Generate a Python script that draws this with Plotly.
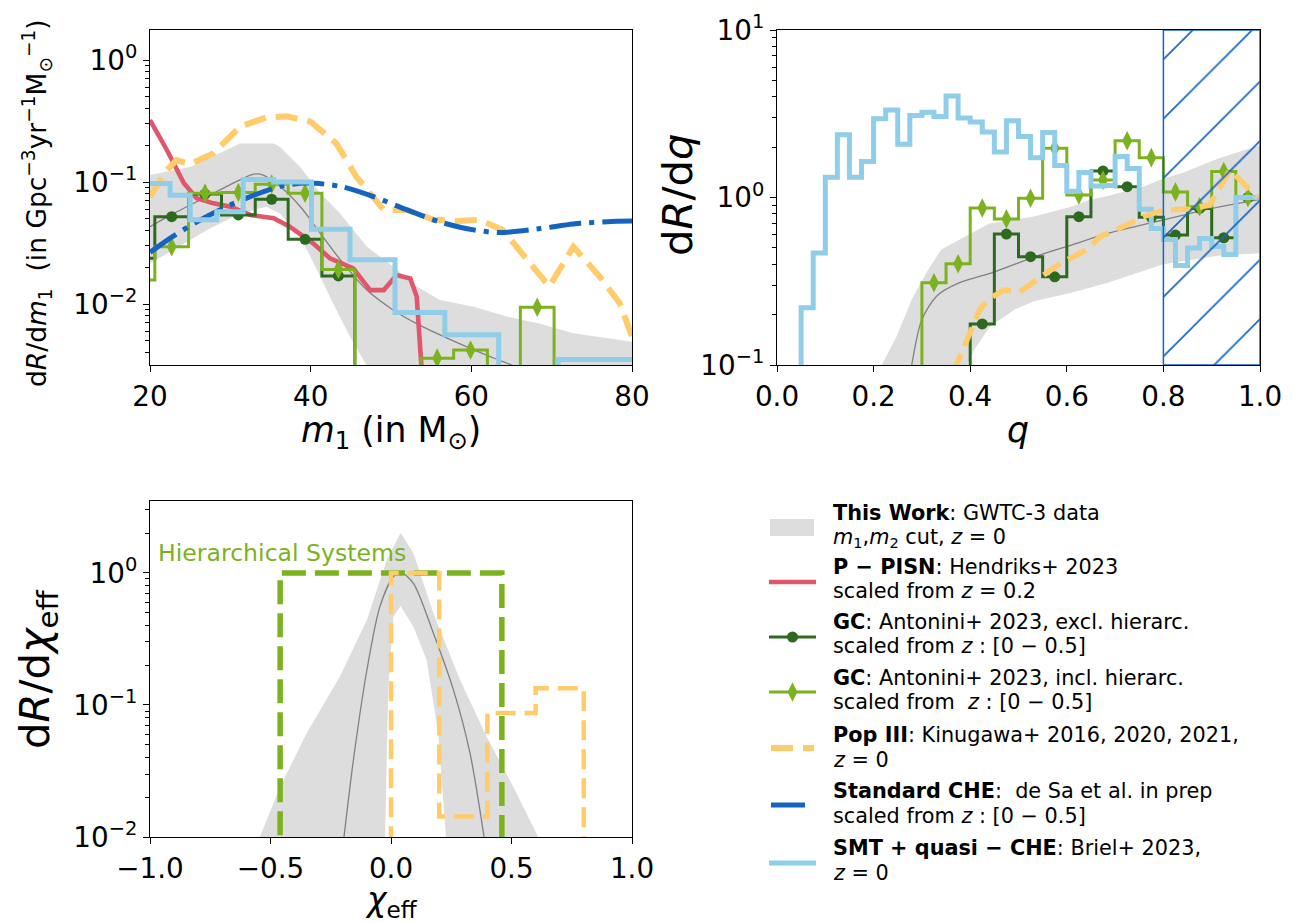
import numpy as np
import plotly.graph_objects as go

W, H = 1300, 923
FONT = "DejaVu Sans"

# colours
GREY_FILL = "#dddddd"
GREY_LINE = "#808080"
RED = "#e0566b"
DKGREEN = "#2d6a1f"
LTGREEN = "#7cb21f"
ORANGE = "#ffcb6b"
BLUE = "#1565c0"
LTBLUE = "#8fcde9"

# ================= primary mass m1 =================
m1_band_hi_x = [20, 25, 31.2, 35.4, 36.2, 38.7, 41.2, 43.7, 47.0, 50.3, 53.2, 56.1, 60.3, 64.4, 68.6, 72.7, 80]
m1_band_hi = [0.114, 0.133, 0.207, 0.207, 0.194, 0.133, 0.081, 0.055, 0.0295, 0.0202, 0.0139, 0.0108,
              0.0095, 0.0079, 0.0069, 0.00575, 0.0049]
m1_band_lo_x = [20, 22.9, 27.1, 31.2, 34.5, 36.2, 38.7, 40.8, 42.8, 44.9, 47.0, 48.0, 80]
m1_band_lo = [0.0216, 0.0277, 0.0405, 0.055, 0.0628, 0.055, 0.0356, 0.019, 0.0101, 0.0054, 0.0031, 0, 0]

m1_med_x = [20, 22.9, 27.1, 31.2, 32.9, 34.1, 36.2, 38.7, 41.2, 43.7, 47.0, 50.3, 53.2, 57.4, 61.5, 64.8, 70]
m1_med = [0.043, 0.055, 0.076, 0.104, 0.116, 0.114, 0.092, 0.063, 0.038, 0.023, 0.013, 0.0089, 0.0069,
          0.0051, 0.0039, 0.0032, 0.0022]

pisn_m = [20, 22.1, 24.2, 25.8, 27.9, 30.0, 32.5, 35.4, 37.4, 40.3, 42.4, 45.3, 47.4, 49.1, 50.7, 52.4,
          53.2, 53.8, 54.0]
pisn_rate = [0.322, 0.183, 0.098, 0.0735, 0.0668, 0.0628, 0.0537, 0.0504, 0.043, 0.0314, 0.0237, 0.0196,
             0.013, 0.013, 0.0173, 0.0162, 0.0115, 0.003, 0]

gc_m_edges = [16.5, 20.6, 24.8, 28.9, 33.1, 37.2, 41.4, 45.5, 49.6, 53.7, 57.8, 62.0, 66.1, 70.3, 74.4]
gc_excl_m = [0.0237, 0.052, 0.0797, 0.0537, 0.0722, 0.0339, 0.017, 0, 0, 0, 0, 0, 0, 0]
gc_incl_m = [0.0157, 0.0295, 0.081, 0.082, 0.096, 0.081, 0.0192, 0, 0, 0.0036, 0.0042, 0, 0.0094, 0]

pop3_m = [20, 22.1, 23.3, 25.0, 27.9, 31.2, 34.5, 37.0, 40.0, 43.2, 45.7, 49.1, 52.0, 55.3, 58.1, 61.0,
          63.9, 66.4, 69.7, 72.7, 76.0, 78.5, 80]
pop3_m_rate = [0.076, 0.125, 0.151, 0.14, 0.172, 0.284, 0.339, 0.345, 0.312, 0.207, 0.11, 0.059, 0.059,
               0.049, 0.048, 0.049, 0.0405, 0.026, 0.0139, 0.0295, 0.0167, 0.0101, 0.0054]

che_m = [20, 22.9, 25.8, 29.1, 32.5, 36.2, 39.5, 43.7, 47.8, 52.0, 56.1, 60.3, 63.6, 68.6, 72.7, 76.9, 80]
che_m_rate = [0.0265, 0.036, 0.047, 0.061, 0.076, 0.092, 0.098, 0.092, 0.076, 0.059, 0.047, 0.0405,
              0.0385, 0.0415, 0.0453, 0.0473, 0.0478]

smt_m_edges = [20, 22.5, 25.0, 28.3, 31.6, 35.4, 40.1, 44.9, 50.5, 56.7, 63.4, 70.8, 80]
smt_m_rate = [0.097, 0.078, 0.049, 0.057, 0.105, 0.100, 0.041, 0.023, 0.0085, 0.0056, 0, 0.0035]

# ================= mass ratio q =================
q_band_hi_x = [0.217, 0.248, 0.279, 0.309, 0.34, 0.378, 0.44, 0.532, 0.609, 0.648, 0.685, 0.762, 0.8,
               0.839, 0.916, 1.0]
q_band_hi = [0.1, 0.149, 0.246, 0.355, 0.489, 0.561, 0.70, 0.77, 0.88, 0.97, 1.02, 1.17, 1.3, 1.4, 1.72, 2.05]
q_band_lo_x = [0.217, 0.39, 0.409, 0.441, 0.493, 0.532, 0.609, 0.685, 0.8, 0.916, 1.0]
q_band_lo = [0.095, 0.095, 0.124, 0.17, 0.215, 0.24, 0.27, 0.31, 0.40, 0.45, 0.465]

q_med_x = [0.279, 0.30, 0.332, 0.378, 0.441, 0.545, 0.609, 0.685, 0.8, 0.9, 1.0]
q_med = [0.1, 0.187, 0.26, 0.31, 0.352, 0.454, 0.52, 0.61, 0.734, 0.86, 0.975]

gc_q_edges = [0.25, 0.3, 0.35, 0.4, 0.45, 0.5, 0.55, 0.6, 0.65, 0.7, 0.75, 0.8, 0.85, 0.9, 0.95, 1.0]
gc_excl_q = [0, 0, 0, 0.176, 0.605, 0.443, 0.336, 0.768, 1.44, 1.16, 0.762, 0.597, 0.86, 0.575, 1.0]
gc_incl_q = [0, 0.31, 0.402, 0.866, 0.745, 0.99, 1.97, 1.035, 1.27, 2.18, 1.73, 1.08, 0.88, 1.43, 1.0]

pop3_q = [0.365, 0.394, 0.42, 0.44, 0.47, 0.503, 0.531, 0.586, 0.641, 0.669, 0.717, 0.758, 0.8, 0.855,
          0.896, 0.917, 0.938, 0.965, 0.995]
pop3_q_rate = [0.09, 0.142, 0.215, 0.25, 0.28, 0.274, 0.314, 0.404, 0.487, 0.584, 0.67, 0.768, 0.841,
               0.855, 0.902, 1.135, 1.46, 1.22, 1.0]

smt_q_edges = [0.025, 0.05, 0.075, 0.1, 0.125, 0.15, 0.175, 0.2, 0.225, 0.25, 0.275, 0.3, 0.325, 0.35,
               0.375, 0.4, 0.425, 0.45, 0.475, 0.5, 0.525, 0.55, 0.575, 0.6, 0.625, 0.65, 0.675, 0.7,
               0.725, 0.75, 0.775, 0.8, 0.825, 0.85, 0.875, 0.9, 0.925, 0.95, 0.975, 1.0]
smt_q_rate = [0, 0.22, 0.467, 1.32, 2.37, 1.32, 1.64, 2.95, 3.33, 2.08, 3.09, 3.23, 3.05, 4.04, 2.98,
              2.82, 2.46, 1.87, 2.87, 2.31, 1.73, 2.44, 1.55, 1.09, 1.41, 1.17, 1.18, 1.76, 1.49, 0.85,
              0.652, 0.561, 0.393, 0.5, 0.57, 0.51, 0.457, 1.0, 1.0]

# region q > 0.8 marked with hatching
q_hatch = [0.8, 1.0]

# ================= effective spin chi_eff =================
chi_band_hi_x = [-0.544, -0.46, -0.35, -0.212, -0.1, -0.018, 0.04, 0.093, 0.176, 0.286, 0.397, 0.507, 0.611]
chi_band_hi = [0.01, 0.024, 0.061, 0.164, 0.44, 1.25, 2.02, 1.41, 0.495, 0.155, 0.0575, 0.024, 0.01]
chi_band_lo_x = [-0.544, -0.025, -0.011, 0.01, 0.04, 0.093, 0.148, 0.196, 0.228, 0.611]
chi_band_lo = [0, 0.01, 0.138, 0.467, 0.562, 0.392, 0.219, 0.061, 0.01, 0]

chi_med_x = [-0.198, -0.156, -0.1, -0.046, 0.01, 0.044, 0.093, 0.176, 0.259, 0.328, 0.39]
chi_med = [0.009, 0.0383, 0.184, 0.556, 0.937, 1.0, 0.835, 0.349, 0.13, 0.043, 0.009]

chi_hier_edges = [-1.0, -0.46, 0.46, 1.0]
chi_hier = [0, 1.0, 0]

chi_pop3_edges = [-0.2, 0.0, 0.2, 0.4, 0.6, 0.8, 1.0]
chi_pop3 = [0, 1.0, 0.0143, 0.087, 0.134, 0]

FLOOR = 1e-5  # empty bins are pushed below the visible range of the log axes


def pos(vals):
    return [max(v, FLOOR) for v in vals]


def step_xy(edges, vals):
    v = pos(vals)
    return list(edges), v + [v[-1]]


def centers(edges):
    return [(a + b) / 2 for a, b in zip(edges[:-1], edges[1:])]


def band(xh, yh, xl, yl):
    return list(xh) + list(xl)[::-1], pos(yh) + pos(yl)[::-1]


fig = go.Figure()


def add_band(xa, ya, xh, yh, xl, yl):
    bx, by = band(xh, yh, xl, yl)
    fig.add_trace(go.Scatter(x=bx, y=by, xaxis=xa, yaxis=ya, fill="toself", fillcolor=GREY_FILL,
                             mode="lines", line=dict(width=0, color=GREY_FILL), hoverinfo="skip",
                             showlegend=False))


def add_line(xa, ya, x, y, color, width, dash="solid", shape="linear", smoothing=None):
    line = dict(color=color, width=width, dash=dash, shape=shape)
    if smoothing is not None:
        line["smoothing"] = smoothing
    fig.add_trace(go.Scatter(x=x, y=pos(y), xaxis=xa, yaxis=ya, mode="lines", line=line,
                             showlegend=False))


def add_steps(xa, ya, edges, vals, color, width, dash="solid", symbol=None, msize=10):
    sx, sy = step_xy(edges, vals)
    fig.add_trace(go.Scatter(x=sx, y=sy, xaxis=xa, yaxis=ya, mode="lines",
                             line=dict(color=color, width=width, dash=dash, shape="hv"), showlegend=False))
    if symbol:
        fig.add_trace(go.Scatter(x=centers(edges), y=pos(vals), xaxis=xa, yaxis=ya, mode="markers",
                                 marker=dict(symbol=symbol, size=msize, color=color, line=dict(width=0)),
                                 showlegend=False))


# ---- panel: m1 ----
add_band("x", "y", m1_band_hi_x, m1_band_hi, m1_band_lo_x, m1_band_lo)
add_line("x", "y", m1_med_x, m1_med, GREY_LINE, 1.3, shape="spline", smoothing=0.8)
add_line("x", "y", pisn_m, pisn_rate, RED, 4.6)
add_steps("x", "y", gc_m_edges, gc_excl_m, DKGREEN, 3, symbol="circle", msize=11)
add_steps("x", "y", gc_m_edges, gc_incl_m, LTGREEN, 3, symbol="diamond-tall", msize=14)
add_line("x", "y", pop3_m, pop3_m_rate, ORANGE, 6, dash="22px,10px")
add_line("x", "y", che_m, che_m_rate, BLUE, 5, dash="32px,8px,5px,8px", shape="spline", smoothing=0.8)
add_steps("x", "y", smt_m_edges, smt_m_rate, LTBLUE, 5)

# ---- panel: q ----
add_band("x2", "y2", q_band_hi_x, q_band_hi, q_band_lo_x, q_band_lo)
add_line("x2", "y2", q_med_x, q_med, GREY_LINE, 1.3, shape="spline", smoothing=0.8)
add_steps("x2", "y2", gc_q_edges, gc_excl_q, DKGREEN, 3, symbol="circle", msize=11)
add_steps("x2", "y2", gc_q_edges, gc_incl_q, LTGREEN, 3, symbol="diamond-tall", msize=14)
add_steps("x2", "y2", smt_q_edges, smt_q_rate, LTBLUE, 5)
add_line("x2", "y2", pop3_q, pop3_q_rate, ORANGE, 5.5, dash="20px,9px")
fig.add_trace(go.Scatter(
    x=[q_hatch[0], q_hatch[1], q_hatch[1], q_hatch[0], q_hatch[0]],
    y=[0.1, 0.1, 10, 10, 0.1], xaxis="x2", yaxis="y2", mode="lines", fill="toself",
    fillcolor="rgba(0,0,0,0)",
    fillpattern=dict(shape="/", fgcolor=BLUE, bgcolor="rgba(0,0,0,0)", size=42, solidity=0.04),
    line=dict(color=BLUE, width=1.5), hoverinfo="skip", showlegend=False))

# ---- panel: chi_eff ----
add_band("x3", "y3", chi_band_hi_x, chi_band_hi, chi_band_lo_x, chi_band_lo)
add_line("x3", "y3", chi_med_x, chi_med, GREY_LINE, 1.3, shape="spline", smoothing=0.8)
add_steps("x3", "y3", chi_hier_edges, chi_hier, LTGREEN, 5.5, dash="24px,9px")
add_steps("x3", "y3", chi_pop3_edges, chi_pop3, ORANGE, 4.5, dash="20px,9px")

# ---- legend, drawn on a full-figure pixel overlay (x4/y4) ----
legend_rows = [
    ("<b>This Work</b>: GWTC-3 data", "<i>m</i><sub>1</sub>,<i>m</i><sub>2</sub> cut, <i>z</i> = 0"),
    ("<b>P − PISN</b>: Hendriks+ 2023", "scaled from <i>z</i> = 0.2"),
    ("<b>GC</b>: Antonini+ 2023, excl. hierarc.", "scaled from <i>z</i> : [0 − 0.5]"),
    ("<b>GC</b>: Antonini+ 2023, incl. hierarc.", "scaled from \u00a0<i>z</i> : [0 − 0.5]"),
    ("<b>Pop III</b>: Kinugawa+ 2016, 2020, 2021,", "<i>z</i> = 0"),
    ("<b>Standard CHE</b>: \u00a0de Sa et al. in prep", "scaled from <i>z</i> : [0 − 0.5]"),
    ("<b>SMT + quasi − CHE</b>: Briel+ 2023,", "<i>z</i> = 0"),
]
row_text_y = [(512.5, 537.5), (566.5, 590.5), (622, 646), (678, 702), (735, 759.5), (791, 815.5), (848, 873)]
row_swatch_y = [527, 582, 637, 692, 748, 805, 863]

annotations = []
shapes = []
for (l1, l2), (y1, y2) in zip(legend_rows, row_text_y):
    for txt, yy in ((l1, y1), (l2, y2)):
        annotations.append(dict(x=831, y=yy, xref="x4", yref="y4", text=txt, showarrow=False,
                                xanchor="left", yanchor="middle",
                                font=dict(family=FONT, size=20.8, color="black")))

shapes.append(dict(type="rect", xref="x4", yref="y4", x0=770, x1=814, y0=519, y1=536,
                   fillcolor=GREY_FILL, line=dict(width=0)))


def swatch(x0, x1, y, color, width, dash="solid", symbol=None, msize=10):
    fig.add_trace(go.Scatter(x=[x0, x1], y=[y, y], xaxis="x4", yaxis="y4", mode="lines",
                             line=dict(color=color, width=width, dash=dash), showlegend=False,
                             hoverinfo="skip"))
    if symbol:
        fig.add_trace(go.Scatter(x=[(x0 + x1) / 2], y=[y], xaxis="x4", yaxis="y4", mode="markers",
                                 marker=dict(symbol=symbol, size=msize, color=color, line=dict(width=0)),
                                 showlegend=False, hoverinfo="skip"))


swatch(769, 816, row_swatch_y[1], RED, 4.6)
swatch(769, 816, row_swatch_y[2], DKGREEN, 3, symbol="circle", msize=11)
swatch(769, 816, row_swatch_y[3], LTGREEN, 3, symbol="diamond-tall", msize=14)
swatch(771, 814, row_swatch_y[4], ORANGE, 6, dash="22px,10px")
swatch(771, 805, row_swatch_y[5], BLUE, 5)
swatch(769, 816, row_swatch_y[6], LTBLUE, 5)


# ---- axis titles and labels ----
def label(x, y, text, size, angle=0, color="black", xanchor="center"):
    annotations.append(dict(x=x, y=y, xref="x4", yref="y4", text=text, showarrow=False,
                            textangle=angle, xanchor=xanchor, yanchor="middle",
                            font=dict(family=FONT, size=size, color=color)))


label(37, 203, "d<i>R</i>/d<i>m</i><sub>1</sub>  (in Gpc<sup>−3</sup>yr<sup>−1</sup>M<sub>⊙</sub><sup>−1</sup>)",
      26.5, angle=-90)
label(391, 432, "<i>m</i><sub>1</sub> (in M<sub>⊙</sub>)", 34.7)
label(677, 195, "d<i>R</i>/d<i>q</i>", 41.7, angle=-90)
label(1018, 430, "<i>q</i>", 34.7)
label(37, 669, "d<i>R</i>/d<i>χ</i><sub>eff</sub>", 41.7, angle=-90)
label(391, 901, "<i>χ</i><sub>eff</sub>", 33)
label(156, 553, "Hierarchical Systems", 23.6, color=LTGREEN, xanchor="left")


# ---- axes ----
def sup(e):
    return "10<sup>" + (str(e) if e >= 0 else "−" + str(-e)) + "</sup>"


def minor_vals(lo, hi):
    out = []
    for e in range(lo, hi + 1):
        for k in range(2, 10):
            out.append(k * 10.0 ** e)
    return out


tickfont = dict(family=FONT, size=27.8, color="black")
common = dict(showline=True, linecolor="black", linewidth=1.3, mirror=True, ticks="outside",
              ticklen=6, tickwidth=1.3, tickcolor="black", showgrid=False, zeroline=False,
              tickfont=tickfont, automargin=False)


def log_axis(dom, lo_exp, hi_exp, rng, anchor):
    return dict(common, type="log", domain=dom, range=rng, anchor=anchor,
                tickvals=[10.0 ** e for e in range(lo_exp, hi_exp + 1)],
                ticktext=[sup(e) for e in range(lo_exp, hi_exp + 1)],
                minor=dict(ticks="outside", ticklen=3.5, tickwidth=1, tickcolor="black",
                           tickvals=minor_vals(lo_exp - 1, hi_exp), showgrid=False))


xl = [150 / W, 632 / W]
xr = [777 / W, 1260 / W]
yt = [1 - 365 / H, 1 - 30 / H]
yb = [1 - 837 / H, 1 - 501 / H]

fig.update_layout(
    template="none",
    width=W, height=H, margin=dict(l=0, r=0, t=0, b=0, pad=0, autoexpand=False),
    paper_bgcolor="white", plot_bgcolor="rgba(0,0,0,0)", showlegend=False,
    font=dict(family=FONT, color="black"),
    xaxis=dict(common, domain=xl, range=[20, 80], tickvals=[20, 40, 60, 80], anchor="y"),
    yaxis=log_axis(yt, -2, 0, [-2.5, 0.246], "x"),
    xaxis2=dict(common, domain=xr, range=[0, 1], tickvals=[0, 0.2, 0.4, 0.6, 0.8, 1.0],
                tickformat=".1f", anchor="y2"),
    yaxis2=log_axis(yt, -1, 1, [-1, 1], "x2"),
    xaxis3=dict(common, domain=xl, range=[-1, 1], tickvals=[-1, -0.5, 0, 0.5, 1.0],
                tickformat=".1f", anchor="y3"),
    yaxis3=log_axis(yb, -2, 0, [-2, 0.545], "x3"),
    xaxis4=dict(domain=[0, 1], range=[0, W], visible=False, anchor="y4", automargin=False),
    yaxis4=dict(domain=[0, 1], range=[H, 0], visible=False, anchor="x4", automargin=False),
    annotations=annotations,
    shapes=shapes,
)

fig.write_html("out.html")
